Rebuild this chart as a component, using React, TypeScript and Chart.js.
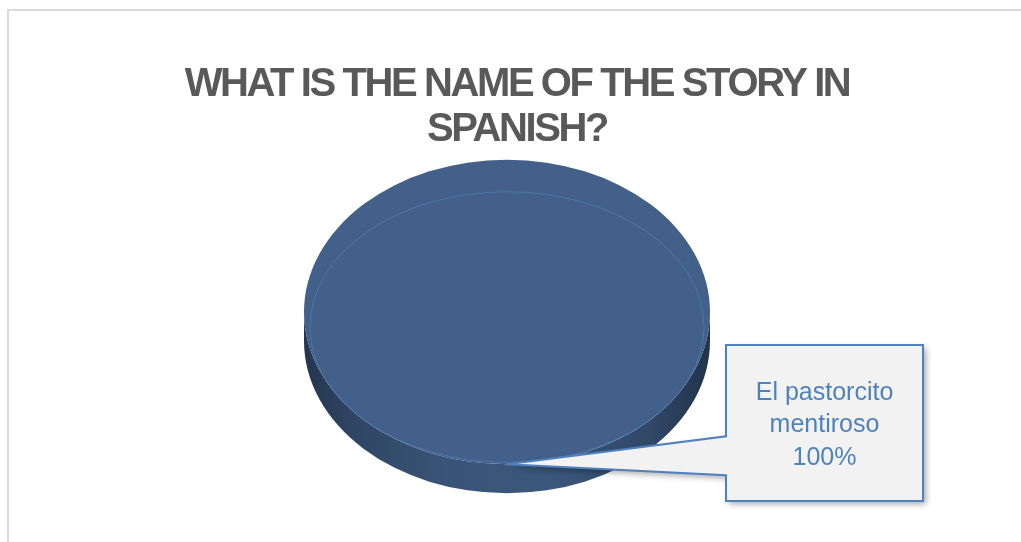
import { useEffect, useRef } from "react";
import { Chart, registerables } from "chart.js";

Chart.register(...registerables);

const titleLines = ["WHAT IS THE NAME OF THE STORY IN", "SPANISH?"];
const categories = ["El pastorcito mentiroso"];
const values = [100];
const sliceColors = ["#42608A"];

export default function App() {
  const ref = useRef<HTMLCanvasElement>(null);

  useEffect(() => {
    const canvas = ref.current!;
    const tilt = 0.75;
    const depth = 29;
    const titleShift = 10;

    const pie3d = {
      id: "pie3d",
      beforeDraw(chart: any) {
        const ctx = chart.ctx as any;
        ctx.save();
        ctx.letterSpacing = "-2.4px";
        ctx.translate(titleShift, 0);
      },
      beforeDatasetsDraw(chart: any) {
        const ctx = chart.ctx as CanvasRenderingContext2D;
        ctx.restore();
        (ctx as any).letterSpacing = "0px";
        const arc: any = chart.getDatasetMeta(0).data[0];
        const { x, y, outerRadius: r } = arc;
        const ry = r * tilt;
        ctx.save();
        const g = ctx.createLinearGradient(x - r, 0, x + r, 0);
        g.addColorStop(0, "#24364e");
        g.addColorStop(0.12, "#2f4564");
        g.addColorStop(0.35, "#3a5477");
        g.addColorStop(0.6, "#3b577b");
        g.addColorStop(0.85, "#314868");
        g.addColorStop(1, "#22334a");
        ctx.beginPath();
        ctx.moveTo(x + r, y);
        ctx.lineTo(x + r, y + depth);
        ctx.ellipse(x, y + depth, r, ry, 0, 0, Math.PI);
        ctx.lineTo(x - r, y);
        ctx.ellipse(x, y, r, ry, 0, Math.PI, 0, true);
        ctx.closePath();
        ctx.fillStyle = g;
        ctx.fill();
        ctx.restore();
        ctx.save();
        ctx.translate(x, y);
        ctx.scale(1, tilt);
        ctx.translate(-x, -y);
      },
      afterDatasetsDraw(chart: any) {
        const ctx = chart.ctx as CanvasRenderingContext2D;
        ctx.restore();
        const arc: any = chart.getDatasetMeta(0).data[0];
        const { x, y, outerRadius: r } = arc;
        const ry = r * tilt;
        ctx.save();
        ctx.beginPath();
        ctx.ellipse(x, y + 15, r - 6, ry - 17, 0, 0, Math.PI * 2);
        ctx.strokeStyle = "rgba(86,130,190,0.6)";
        ctx.lineWidth = 1;
        ctx.stroke();
        ctx.restore();
      },
      afterDraw(chart: any) {
        const ctx = chart.ctx as CanvasRenderingContext2D;
        const arc: any = chart.getDatasetMeta(0).data[0];
        const { x, y, outerRadius: r } = arc;
        const ry = r * tilt;
        const tipX = x;
        const tipY = y + ry;
        const bx = x + r + 16;
        const by = y + 33;
        const bw = 197;
        const bh = 156;
        const p1 = tipY - 28;
        const p2 = tipY + 11;
        const path = () => {
          ctx.beginPath();
          ctx.moveTo(bx, by);
          ctx.lineTo(bx + bw, by);
          ctx.lineTo(bx + bw, by + bh);
          ctx.lineTo(bx, by + bh);
          ctx.lineTo(bx, p2);
          ctx.lineTo(tipX, tipY);
          ctx.lineTo(bx, p1);
          ctx.closePath();
        };
        ctx.save();
        ctx.shadowColor = "rgba(0,0,0,0.35)";
        ctx.shadowBlur = 6;
        ctx.shadowOffsetX = 3;
        ctx.shadowOffsetY = 3;
        path();
        ctx.fillStyle = "#F2F2F2";
        ctx.fill();
        ctx.restore();
        ctx.save();
        path();
        ctx.strokeStyle = "#4F81BD";
        ctx.lineWidth = 2;
        ctx.lineJoin = "miter";
        ctx.stroke();
        const total = values.reduce((a, b) => a + b, 0);
        const label = String(chart.data.labels[0]);
        const pct = Math.round((values[0] / total) * 100) + "%";
        ctx.font = '25px "Liberation Sans", Arial, sans-serif';
        ctx.fillStyle = "#4F81BD";
        ctx.textAlign = "center";
        ctx.textBaseline = "alphabetic";
        const words = label.split(" ");
        const lines: string[] = [];
        let cur = "";
        for (const w of words) {
          const t = cur ? cur + " " + w : w;
          if (ctx.measureText(t).width > bw - 30 && cur) {
            lines.push(cur);
            cur = w;
          } else cur = t;
        }
        if (cur) lines.push(cur);
        lines.push(pct);
        const lh = 32.5;
        const cx = bx + bw / 2;
        const startY = by + bh / 2 - ((lines.length - 1) * lh) / 2 + 9;
        lines.forEach((l, i) => ctx.fillText(l, cx, startY + i * lh));
        ctx.restore();
      },
    };

    const chart = new Chart(canvas, {
      type: "pie",
      data: {
        labels: categories,
        datasets: [
          {
            data: values,
            backgroundColor: sliceColors,
            borderWidth: 0,
            clip: false as any,
            radius: 203,
          } as any,
        ],
      },
      options: {
        animation: false,
        responsive: false,
        events: [],
        layout: { padding: { left: 0, right: 7, top: 0, bottom: 80.4 } },
        plugins: {
          legend: { display: false },
          tooltip: { enabled: false },
          title: {
            display: true,
            text: titleLines,
            color: "#595959",
            font: {
              family: "'Liberation Sans', Arial, sans-serif",
              size: 40,
              weight: "bold",
              lineHeight: 1.13,
            },
            padding: { top: 62, bottom: 10 },
          },
        },
      },
      plugins: [pie3d],
    });
    return () => chart.destroy();
  }, []);

  return (
    <div
      style={{
        position: "fixed",
        left: 0,
        top: 0,
        width: 1021,
        height: 542,
        overflow: "hidden",
        background: "#fff",
      }}
    >
      <div
        style={{
          position: "absolute",
          left: 7,
          top: 9,
          width: 1100,
          height: 700,
          borderTop: "2px solid #dadada",
          borderLeft: "2px solid #dadada",
        }}
      />
      <canvas
        ref={ref}
        width={1021}
        height={542}
        style={{ position: "absolute", left: 0, top: 0, width: 1021, height: 542 }}
      />
    </div>
  );
}
